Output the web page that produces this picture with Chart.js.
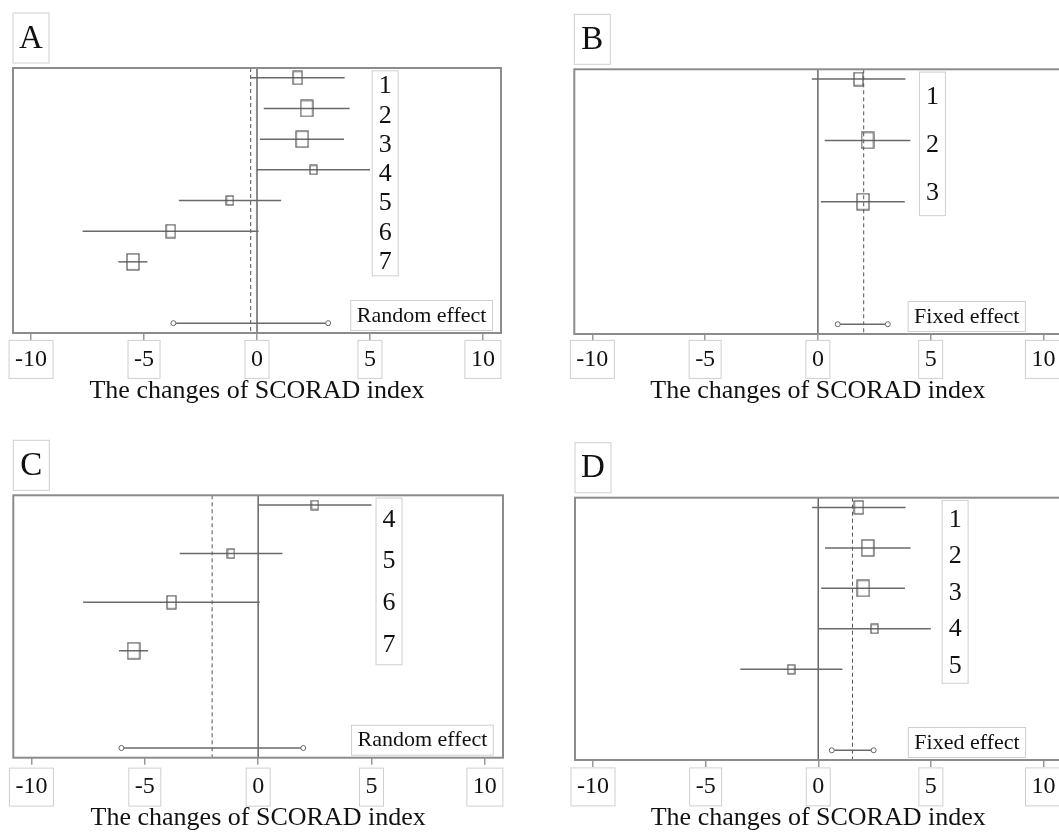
<!DOCTYPE html>
<html>
<head>
<meta charset="utf-8">
<script src="https://cdn.jsdelivr.net/npm/chart.js@4"></script>
<style>
  html, body { margin: 0; padding: 0; background: #fff; overflow: hidden; }
  canvas { position: absolute; }
</style>
</head>
<body>
<canvas id="panelA" width="530" height="417" style="left:0;top:0"></canvas>
<canvas id="panelB" width="545" height="417" style="left:530px;top:0"></canvas>
<canvas id="panelC" width="530" height="417" style="left:0;top:417px"></canvas>
<canvas id="panelD" width="545" height="417" style="left:530px;top:417px"></canvas>
<script>
// study-level estimates (change of SCORAD index, with 95% CI)
const studyLabels = ["1", "2", "3", "4", "5", "6", "7"];
const studyMean = [1.8, 2.2, 2.0, 2.5, -1.2, -3.82, -5.49];
const studyLower = [-0.27, 0.3, 0.13, 0.0, -3.46, -7.72, -6.14];
const studyUpper = [3.88, 4.1, 3.85, 5.0, 1.07, 0.07, -4.85];
const studyWeight = [9, 11.5, 11.5, 6.5, 6.5, 9, 11.5];

// pooled estimates per panel A, B, C, D
const panelNames = ["A", "B", "C", "D"];
const panelModels = ["Random effect", "Fixed effect", "Random effect", "Fixed effect"];
const pooledMean = [-0.28, 2.03, -2.03, 1.52];
const pooledLower = [-3.7, 0.88, -6.03, 0.6];
const pooledUpper = [3.15, 3.1, 1.99, 2.46];

const xTicks = [-10, -5, 0, 5, 10];
const axisTitle = "The changes of SCORAD index";

const serif = '"Liberation Serif", "Times New Roman", serif';
const tickSize = 24;

// which studies go in each panel, and layout of each canvas
const panels = [
  { id: "panelA", studies: [0, 1, 2, 3, 4, 5, 6], pad: { left: 13, top: 68, right: 29, bottom: 0 }, axisH: 84, tickPad: 5, titlePad: 10, labelX: 5.1, effectX: 4.15 },
  { id: "panelB", studies: [0, 1, 2], pad: { left: 44.3, top: 69.3, right: 13.5, bottom: 0 }, axisH: 83, tickPad: 4, titlePad: 10, labelX: 4.5, effectX: 4.0 },
  { id: "panelC", studies: [3, 4, 5, 6], pad: { left: 13.3, top: 78.3, right: 27, bottom: 0 }, axisH: 76.3, tickPad: 8, titlePad: 0, labelX: 5.2, effectX: 4.12 },
  { id: "panelD", studies: [0, 1, 2, 3, 4], pad: { left: 45, top: 80.7, right: 13.5, bottom: 0 }, axisH: 74, tickPad: 5.5, titlePad: 0, labelX: 5.5, effectX: 4.0 }
];

// hollow box marker, taller than wide like the original
function boxImage(w) {
  const h = Math.round(w * 1.4);
  const c = document.createElement("canvas");
  c.width = Math.round(w) + 2;
  c.height = h + 2;
  const g = c.getContext("2d");
  g.strokeStyle = "#555";
  g.lineWidth = 1.2;
  g.strokeRect(1, 1, c.width - 2, c.height - 2);
  return c;
}

const boxesPlugin = {
  id: "boxes",
  afterDraw(chart, args, opts) {
    const { ctx, chartArea: a, scales: { x, y } } = chart;
    ctx.save();

    // plot frame
    ctx.strokeStyle = "#8c8c8c";
    ctx.lineWidth = 2;
    ctx.strokeRect(a.left, a.top, a.right - a.left, a.bottom - a.top);

    ctx.strokeStyle = "#cfcfcf";
    ctx.lineWidth = 1;

    // boxes around tick labels
    ctx.font = tickSize + "px " + serif;
    const cy = x.top + 7 + opts.tickPad + tickSize * 0.6;
    x.ticks.forEach(t => {
      const px = x.getPixelForValue(t.value);
      const w = ctx.measureText(String(t.label)).width;
      ctx.strokeRect(px - w / 2 - 6, cy - 19, w + 12, 38);
    });

    // panel letter
    const lx = a.left, lb = a.top - 5;
    ctx.strokeRect(lx, lb - 50, 36, 50);
    ctx.fillStyle = "#111";
    ctx.font = "33px " + serif;
    ctx.textAlign = "center";
    ctx.textBaseline = "middle";
    ctx.fillText(opts.letter, lx + 18, lb - 24);

    // study number column
    const n = opts.labels.length;
    const top = y.getPixelForValue(0) - 7;
    const bottom = y.getPixelForValue(n - 1) + 14;
    const bx = x.getPixelForValue(opts.labelX);
    ctx.strokeRect(bx, top, 26, bottom - top);
    ctx.font = "26px " + serif;
    const step = (bottom - top) / n;
    opts.labels.forEach((lab, i) => {
      ctx.fillText(lab, bx + 13, top + step * (i + 0.5) + 1);
    });

    // model label
    ctx.font = "22px " + serif;
    const ew = ctx.measureText(opts.model).width + 12;
    const ex = x.getPixelForValue(opts.effectX);
    ctx.strokeRect(ex, a.bottom - 32.5, ew, 30);
    ctx.textAlign = "left";
    ctx.fillText(opts.model, ex + 6, a.bottom - 17);

    ctx.restore();
  }
};

panels.forEach((p, k) => {
  const rows = p.studies;
  const n = rows.length;
  const yMin = -0.04 * (n + 1);
  const yMax = 1.04 * (n + 1);

  const datasets = [];

  // confidence interval of each study
  rows.forEach((s, i) => {
    datasets.push({
      data: [{ x: studyLower[s], y: i }, { x: studyUpper[s], y: i }],
      showLine: true,
      borderColor: "#6a6a6a",
      borderWidth: 1.5,
      pointRadius: 0
    });
  });

  // point estimates
  datasets.push({
    data: rows.map((s, i) => ({ x: studyMean[s], y: i })),
    pointStyle: rows.map(s => boxImage(studyWeight[s])),
    pointRadius: 5,
    order: -1
  });

  // pooled interval
  datasets.push({
    data: [{ x: pooledLower[k], y: n + 1 }, { x: pooledUpper[k], y: n + 1 }],
    showLine: true,
    borderColor: "#6a6a6a",
    borderWidth: 1.5,
    pointStyle: "circle",
    pointRadius: 2.5,
    pointBorderWidth: 1,
    pointBorderColor: "#666",
    pointBackgroundColor: "#fff",
    order: -1
  });

  // line of no effect
  datasets.push({
    data: [{ x: 0, y: yMin }, { x: 0, y: yMax }],
    showLine: true,
    borderColor: "#666",
    borderWidth: 1.5,
    pointRadius: 0
  });

  // pooled estimate
  datasets.push({
    data: [{ x: pooledMean[k], y: yMin }, { x: pooledMean[k], y: yMax }],
    showLine: true,
    borderColor: "#555",
    borderWidth: 1,
    borderDash: [4, 3],
    pointRadius: 0
  });

  new Chart(document.getElementById(p.id), {
    type: "scatter",
    data: { datasets: datasets },
    options: {
      responsive: false,
      animation: false,
      layout: { padding: p.pad },
      plugins: {
        legend: { display: false },
        tooltip: { enabled: false },
        boxes: {
          tickPad: p.tickPad,
          letter: panelNames[k],
          labels: rows.map(s => studyLabels[s]),
          labelX: p.labelX,
          effectX: p.effectX,
          model: panelModels[k]
        }
      },
      scales: {
        x: {
          type: "linear",
          min: -10.8,
          max: 10.8,
          afterBuildTicks: s => { s.ticks = xTicks.map(v => ({ value: v })); },
          afterFit: s => { s.height = p.axisH; },
          border: { display: false },
          grid: { drawOnChartArea: false, tickLength: 7, color: "#999", lineWidth: 1.5 },
          ticks: { padding: p.tickPad, maxRotation: 0, color: "#111", font: { family: serif, size: tickSize } },
          title: { display: true, text: axisTitle, color: "#111", font: { family: serif, size: 26 }, padding: { top: 0, bottom: p.titlePad } }
        },
        y: {
          type: "linear",
          reverse: true,
          min: yMin,
          max: yMax,
          display: false
        }
      }
    },
    plugins: [boxesPlugin]
  });
});
</script>
</body>
</html>
